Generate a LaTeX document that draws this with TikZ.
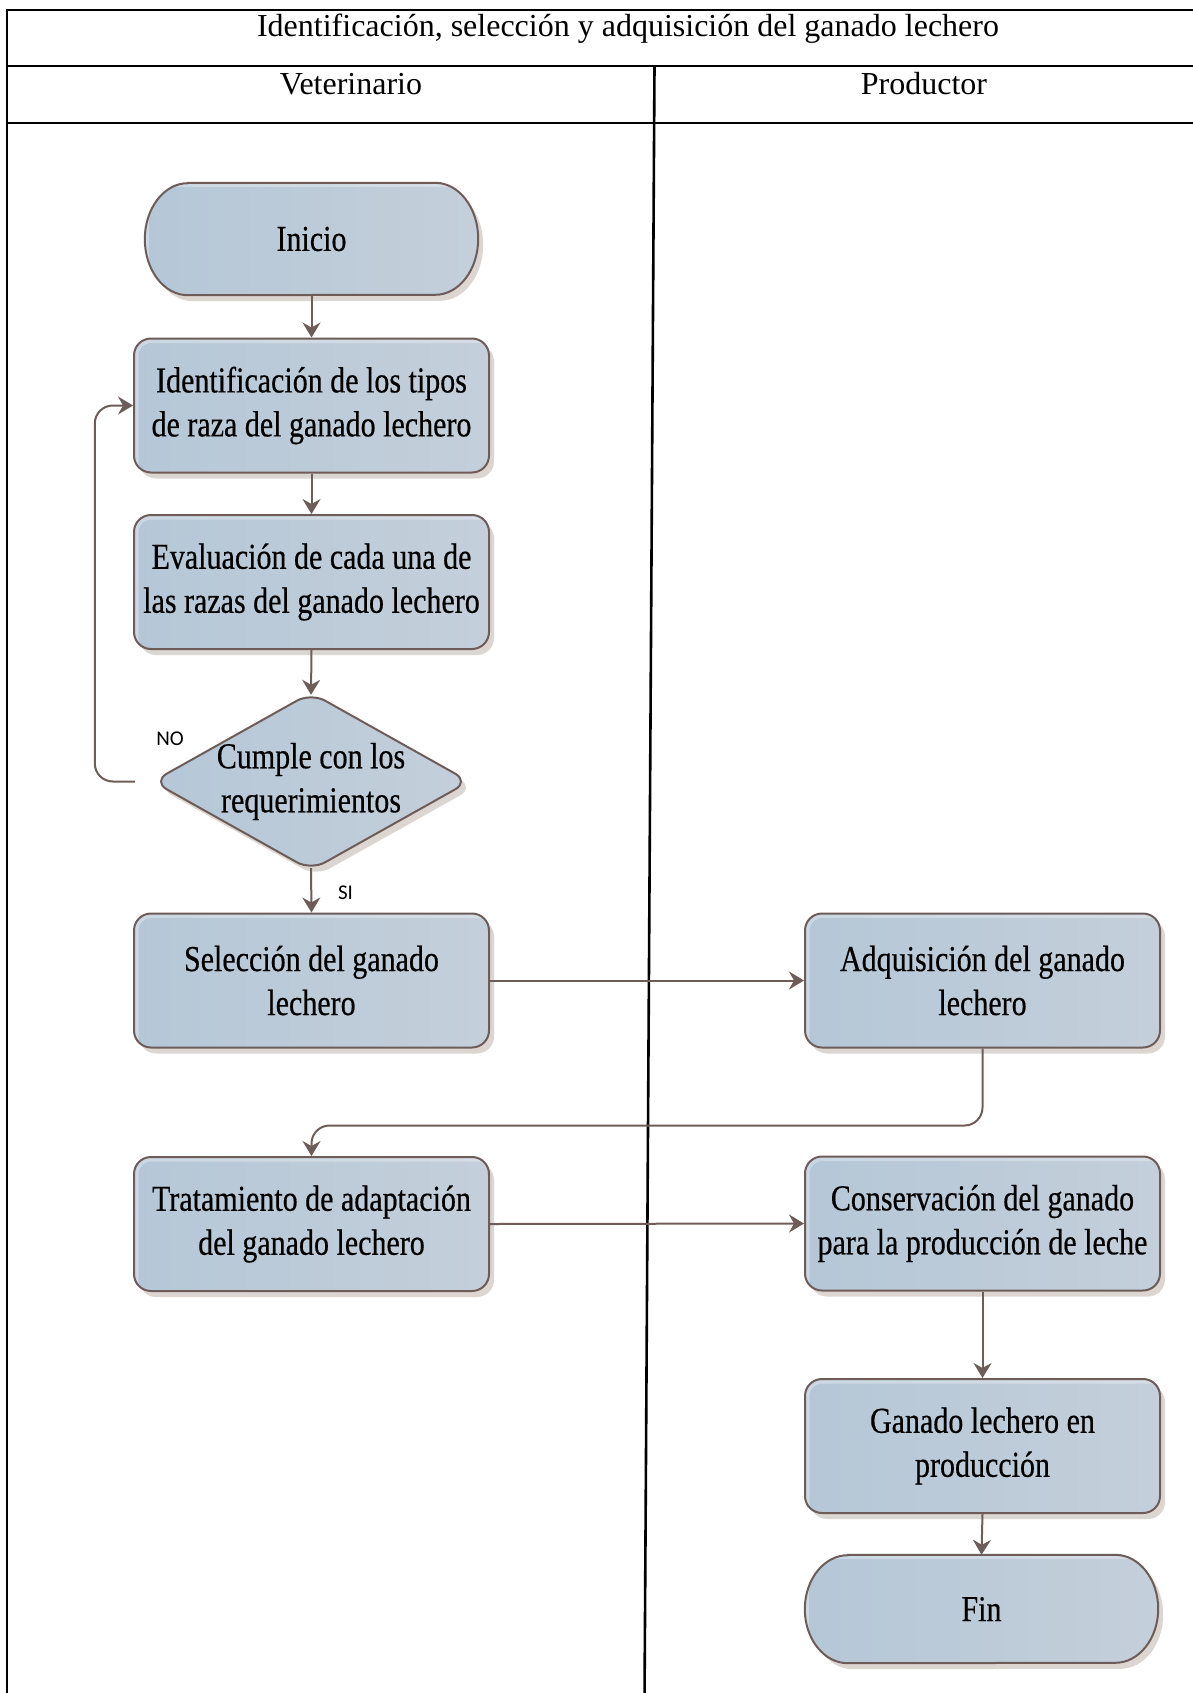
\documentclass[tikz,border=0pt]{standalone}
\usepackage{fontspec}
\setmainfont{Liberation Serif}
\newfontfamily\boxfont[FakeStretch=0.822, FakeBold=0.4]{Liberation Serif}
\newfontfamily\lblfont{Carlito}
\usetikzlibrary{arrows.meta,calc,backgrounds,shadows}

\definecolor{edgec}{RGB}{110,92,88}
\definecolor{fillA}{RGB}{181,199,215}
\definecolor{fillB}{RGB}{196,207,218}
\definecolor{shadowc}{RGB}{220,214,211}

\tikzset{
  tablerule/.style={line width=2.6pt, draw=black},
  softshadow/.style={drop shadow={shadow xshift=5pt, shadow yshift=-6pt, fill=shadowc, opacity=1}},
  % light bevel along the upper and left edges
  bevel/.style={path picture={
      \draw[white, opacity=0.3, line width=9pt]
        (path picture bounding box.south west) -- (path picture bounding box.north west)
        -- (path picture bounding box.north east);}},
  boxtext/.style={font=\boxfont\fontsize{36.5}{44}\selectfont, align=center, inner sep=0pt, text=black},
  proc/.style={boxtext, draw=edgec, line width=2pt, rounded corners=17pt,
    left color=fillA, right color=fillB, softshadow, bevel,
    minimum width=355pt, minimum height=134pt},
  shapetext/.style={boxtext, draw=none},
  outline/.style={draw=edgec, line width=2pt, left color=fillA, right color=fillB, softshadow, bevel},
  flow/.style={draw=edgec, line width=2pt, -{Stealth[length=15pt,width=18pt,inset=5pt]}},
  headtext/.style={font=\fontsize{32}{38}\selectfont, anchor=base, inner sep=0pt},
  branch/.style={font=\lblfont\fontsize{21}{25}\selectfont, inner sep=0pt}
}

\begin{document}
\begin{tikzpicture}[x=1pt, y=-1pt]
\useasboundingbox (0,0) rectangle (1192,1693);

% swimlane table
\draw[tablerule] (1200,10) -- (7,10) -- (7,1700);
\draw[tablerule] (7,66) -- (1200,66);
\draw[tablerule] (7,123) -- (1200,123);
\draw[tablerule] (654.5,66) -- (644.5,1700);

\node[headtext] (title) at (628,37) {Identificación, selección y adquisición del ganado lechero};
\node[headtext] (vet) at (351,95) {Veterinario};
\node[headtext] (prodr) at (924,95) {Productor};

% flow steps
\node[shapetext, minimum width=333pt, minimum height=112pt] (ini) at (311.5,239) {Inicio};
\node[proc] (ident) at (311.5,405.5) {Identificación de los tipos\\de raza del ganado lechero};
\node[proc] (eval) at (311.5,582) {Evaluación de cada una de\\las razas del ganado lechero};
\node[shapetext, minimum width=316pt, minimum height=177pt] (dec) at (311,781.5) {Cumple con los\\requerimientos};
\node[proc] (sel) at (311.5,980.5) {Selección del ganado\\lechero};
\node[proc] (adq) at (982.5,980.5) {Adquisición del ganado\\lechero};
\node[proc] (trat) at (311.5,1224) {Tratamiento de adaptación\\del ganado lechero};
\node[proc] (cons) at (982.5,1223.5) {Conservación del ganado\\para la producción de leche};
\node[proc] (prod) at (982.5,1446) {Ganado lechero en\\producción};
\node[shapetext, minimum width=353pt, minimum height=108pt] (fin) at (981.5,1609) {Fin};

% outlines of the terminals and the decision
\begin{scope}[on background layer]
  \path[outline] ($(ini.north west)+(43,0)$) -- ($(ini.north east)+(-43,0)$)
    arc[start angle=90, end angle=-90, x radius=43pt, y radius=56pt]
    -- ($(ini.south west)+(43,0)$)
    arc[start angle=270, end angle=90, x radius=43pt, y radius=56pt] -- cycle;
  \path[outline] ($(fin.north west)+(43,0)$) -- ($(fin.north east)+(-43,0)$)
    arc[start angle=90, end angle=-90, x radius=43pt, y radius=54pt]
    -- ($(fin.south west)+(43,0)$)
    arc[start angle=270, end angle=90, x radius=43pt, y radius=54pt] -- cycle;
  \path[outline, rounded corners=16pt] (dec.west) -- (dec.north) -- (dec.east) -- (dec.south) -- cycle;
\end{scope}

% connectors
\coordinate (decTop) at ($(dec.north)+(0,2)$);
\coordinate (decBot) at ($(dec.south)+(0,-2)$);
\draw[flow] (ini.south) -- (ident.north);
\draw[flow] (ident.south) -- (eval.north);
\draw[flow] (eval.south) -- (decTop);
\draw[flow] (decBot) -- (sel.north);
\coordinate (noStart) at ($(dec.west)+(-18,0)$);
\draw[flow, rounded corners=18pt] (noStart) -- ++(-40,0) |- (ident.west);
\draw[flow] (sel.east) -- (adq.west);
\draw[flow, rounded corners=18pt] (adq.south) -- ++(0,77) -| (trat.north);
\draw[flow] (trat.east) -- (cons.west);
\draw[flow] (cons.south) -- (prod.north);
\draw[flow] (prod.south) -- (fin.north);

\node[branch] (no) at (170,739) {NO};
\node[branch] (si) at (345.5,893) {SI};
\end{tikzpicture}
\end{document}
